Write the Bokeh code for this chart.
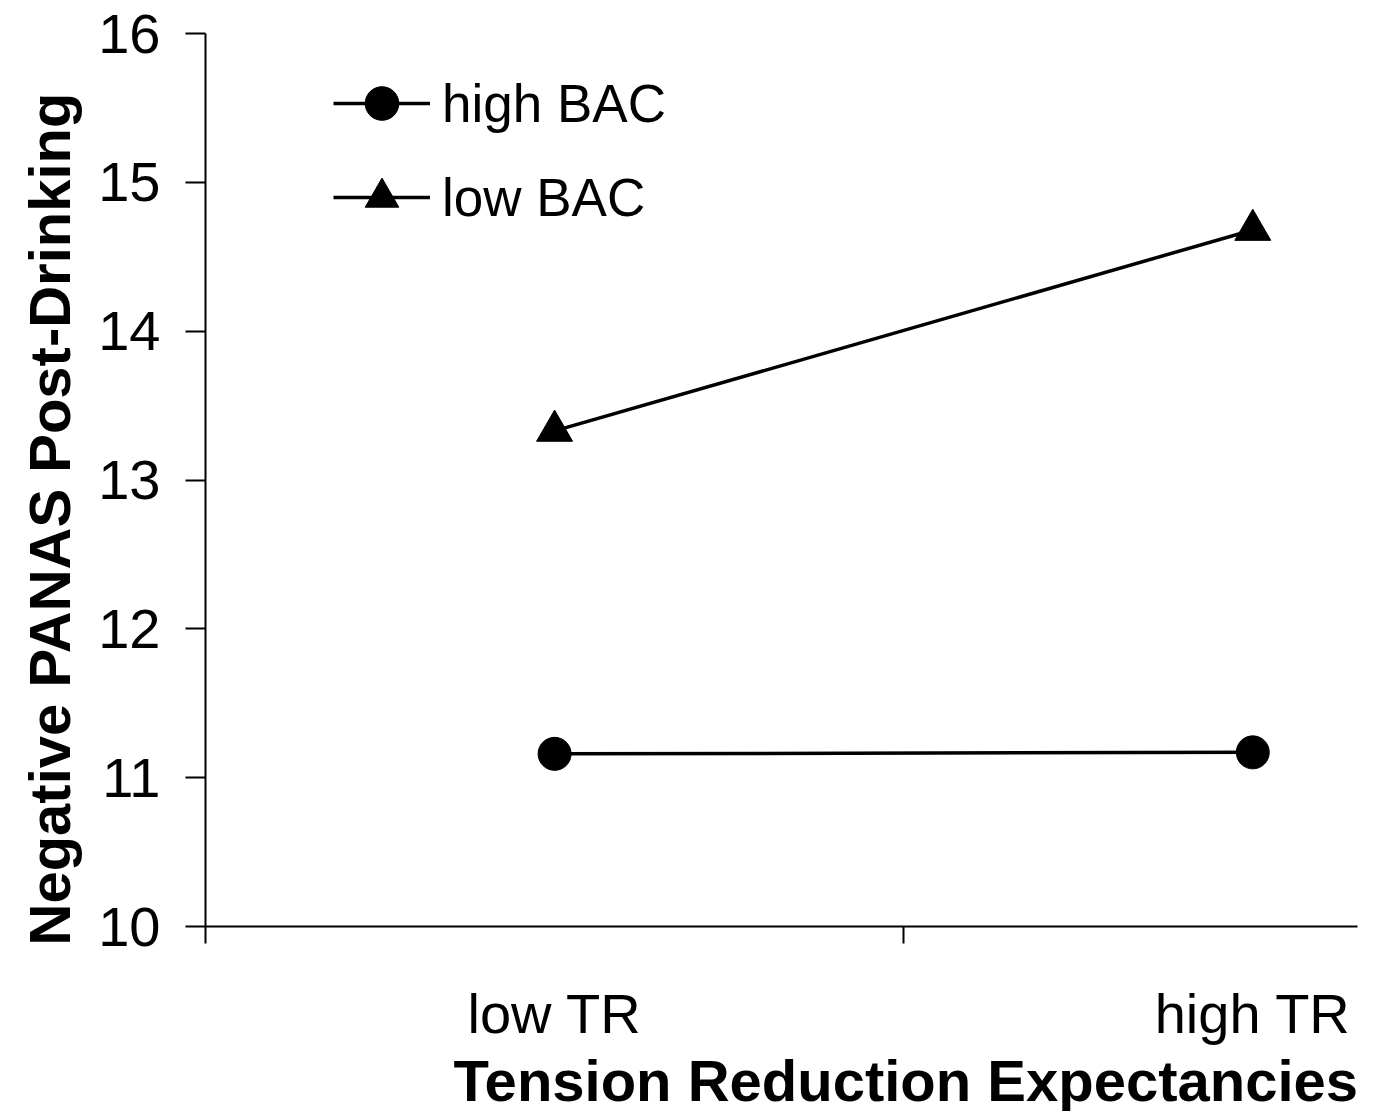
from bokeh.plotting import figure
from bokeh.models import Range1d, FixedTicker, Legend, LegendItem, Title
from bokeh.embed import file_html
from bokeh.resources import INLINE

# ---- data ----
categories = ["low TR", "high TR"]
high_bac = [11.16, 11.17]
low_bac = [13.33, 14.68]
y_ticks = [10, 11, 12, 13, 14, 15, 16]
x_title = "Tension Reduction Expectancies"
y_title = "Negative PANAS Post-Drinking"

FONT = "Liberation Sans"
xs = [i + 0.5 for i in range(len(categories))]

W, H = 1365, 1111
p = figure(width=W, height=H, output_backend="svg", toolbar_location=None,
           x_range=Range1d(0, 1.65), y_range=Range1d(10, 16),
           min_border_left=205, min_border_right=8, min_border_top=33,
           min_border_bottom=185)
p.outline_line_color = None
p.xgrid.visible = False
p.ygrid.visible = False
p.background_fill_color = "white"
p.border_fill_color = "white"

# y axis
ya = p.yaxis[0]
ya.ticker = FixedTicker(ticks=y_ticks, minor_ticks=[])
ya.axis_line_color = "black"
ya.axis_line_width = 2
ya.major_tick_line_color = "black"
ya.major_tick_line_width = 2
ya.major_tick_out = 20
ya.major_tick_in = 0
ya.minor_tick_line_color = None
ya.major_label_text_font = FONT
ya.major_label_text_font_size = "56px"
ya.major_label_text_color = "black"
ya.major_label_standoff = 25

# x axis: labels at category centres, ticks between categories
xa = p.xaxis[0]
xa.ticker = FixedTicker(ticks=xs, minor_ticks=[0, 1])
xa.major_label_overrides = {x: c for x, c in zip(xs, categories)}
xa.axis_line_color = "black"
xa.axis_line_width = 2
xa.major_tick_line_color = None
xa.major_tick_out = 0
xa.major_tick_in = 0
xa.minor_tick_line_color = "black"
xa.minor_tick_line_width = 2
xa.minor_tick_out = 17
xa.minor_tick_in = 0
xa.major_label_text_font = FONT
xa.major_label_text_font_size = "56px"
xa.major_label_text_color = "black"
xa.major_label_standoff = 38

# series
l1 = p.line(xs, high_bac, line_color="black", line_width=3.5)
s1 = p.scatter(xs, high_bac, marker="circle", size=33, fill_color="black", line_color="black")
l2 = p.line(xs, low_bac, line_color="black", line_width=3.5)
s2 = p.scatter(xs, low_bac, marker="triangle", size=36, fill_color="black", line_color="black")

legend = Legend(items=[LegendItem(label="high BAC", renderers=[l1, s1]),
                       LegendItem(label="low BAC", renderers=[l2, s2])],
                location=(128, 687), orientation="vertical",
                glyph_width=97, glyph_height=84, label_height=84,
                label_standoff=12, spacing=10, padding=0, margin=0,
                border_line_color=None, background_fill_alpha=0,
                label_text_font=FONT, label_text_font_size="53px",
                label_text_color="black")
p.add_layout(legend, "center")

# axis titles
p.add_layout(Title(text=x_title, align="left", offset=248, standoff=-4,
                   text_font=FONT, text_font_style="bold", text_font_size="58px",
                   text_color="black"), "below")
p.add_layout(Title(text=y_title, align="left", offset=-19, standoff=28,
                   text_font=FONT, text_font_style="bold", text_font_size="58px",
                   text_color="black"), "left")

open("out.html", "w").write(file_html(p, INLINE))
